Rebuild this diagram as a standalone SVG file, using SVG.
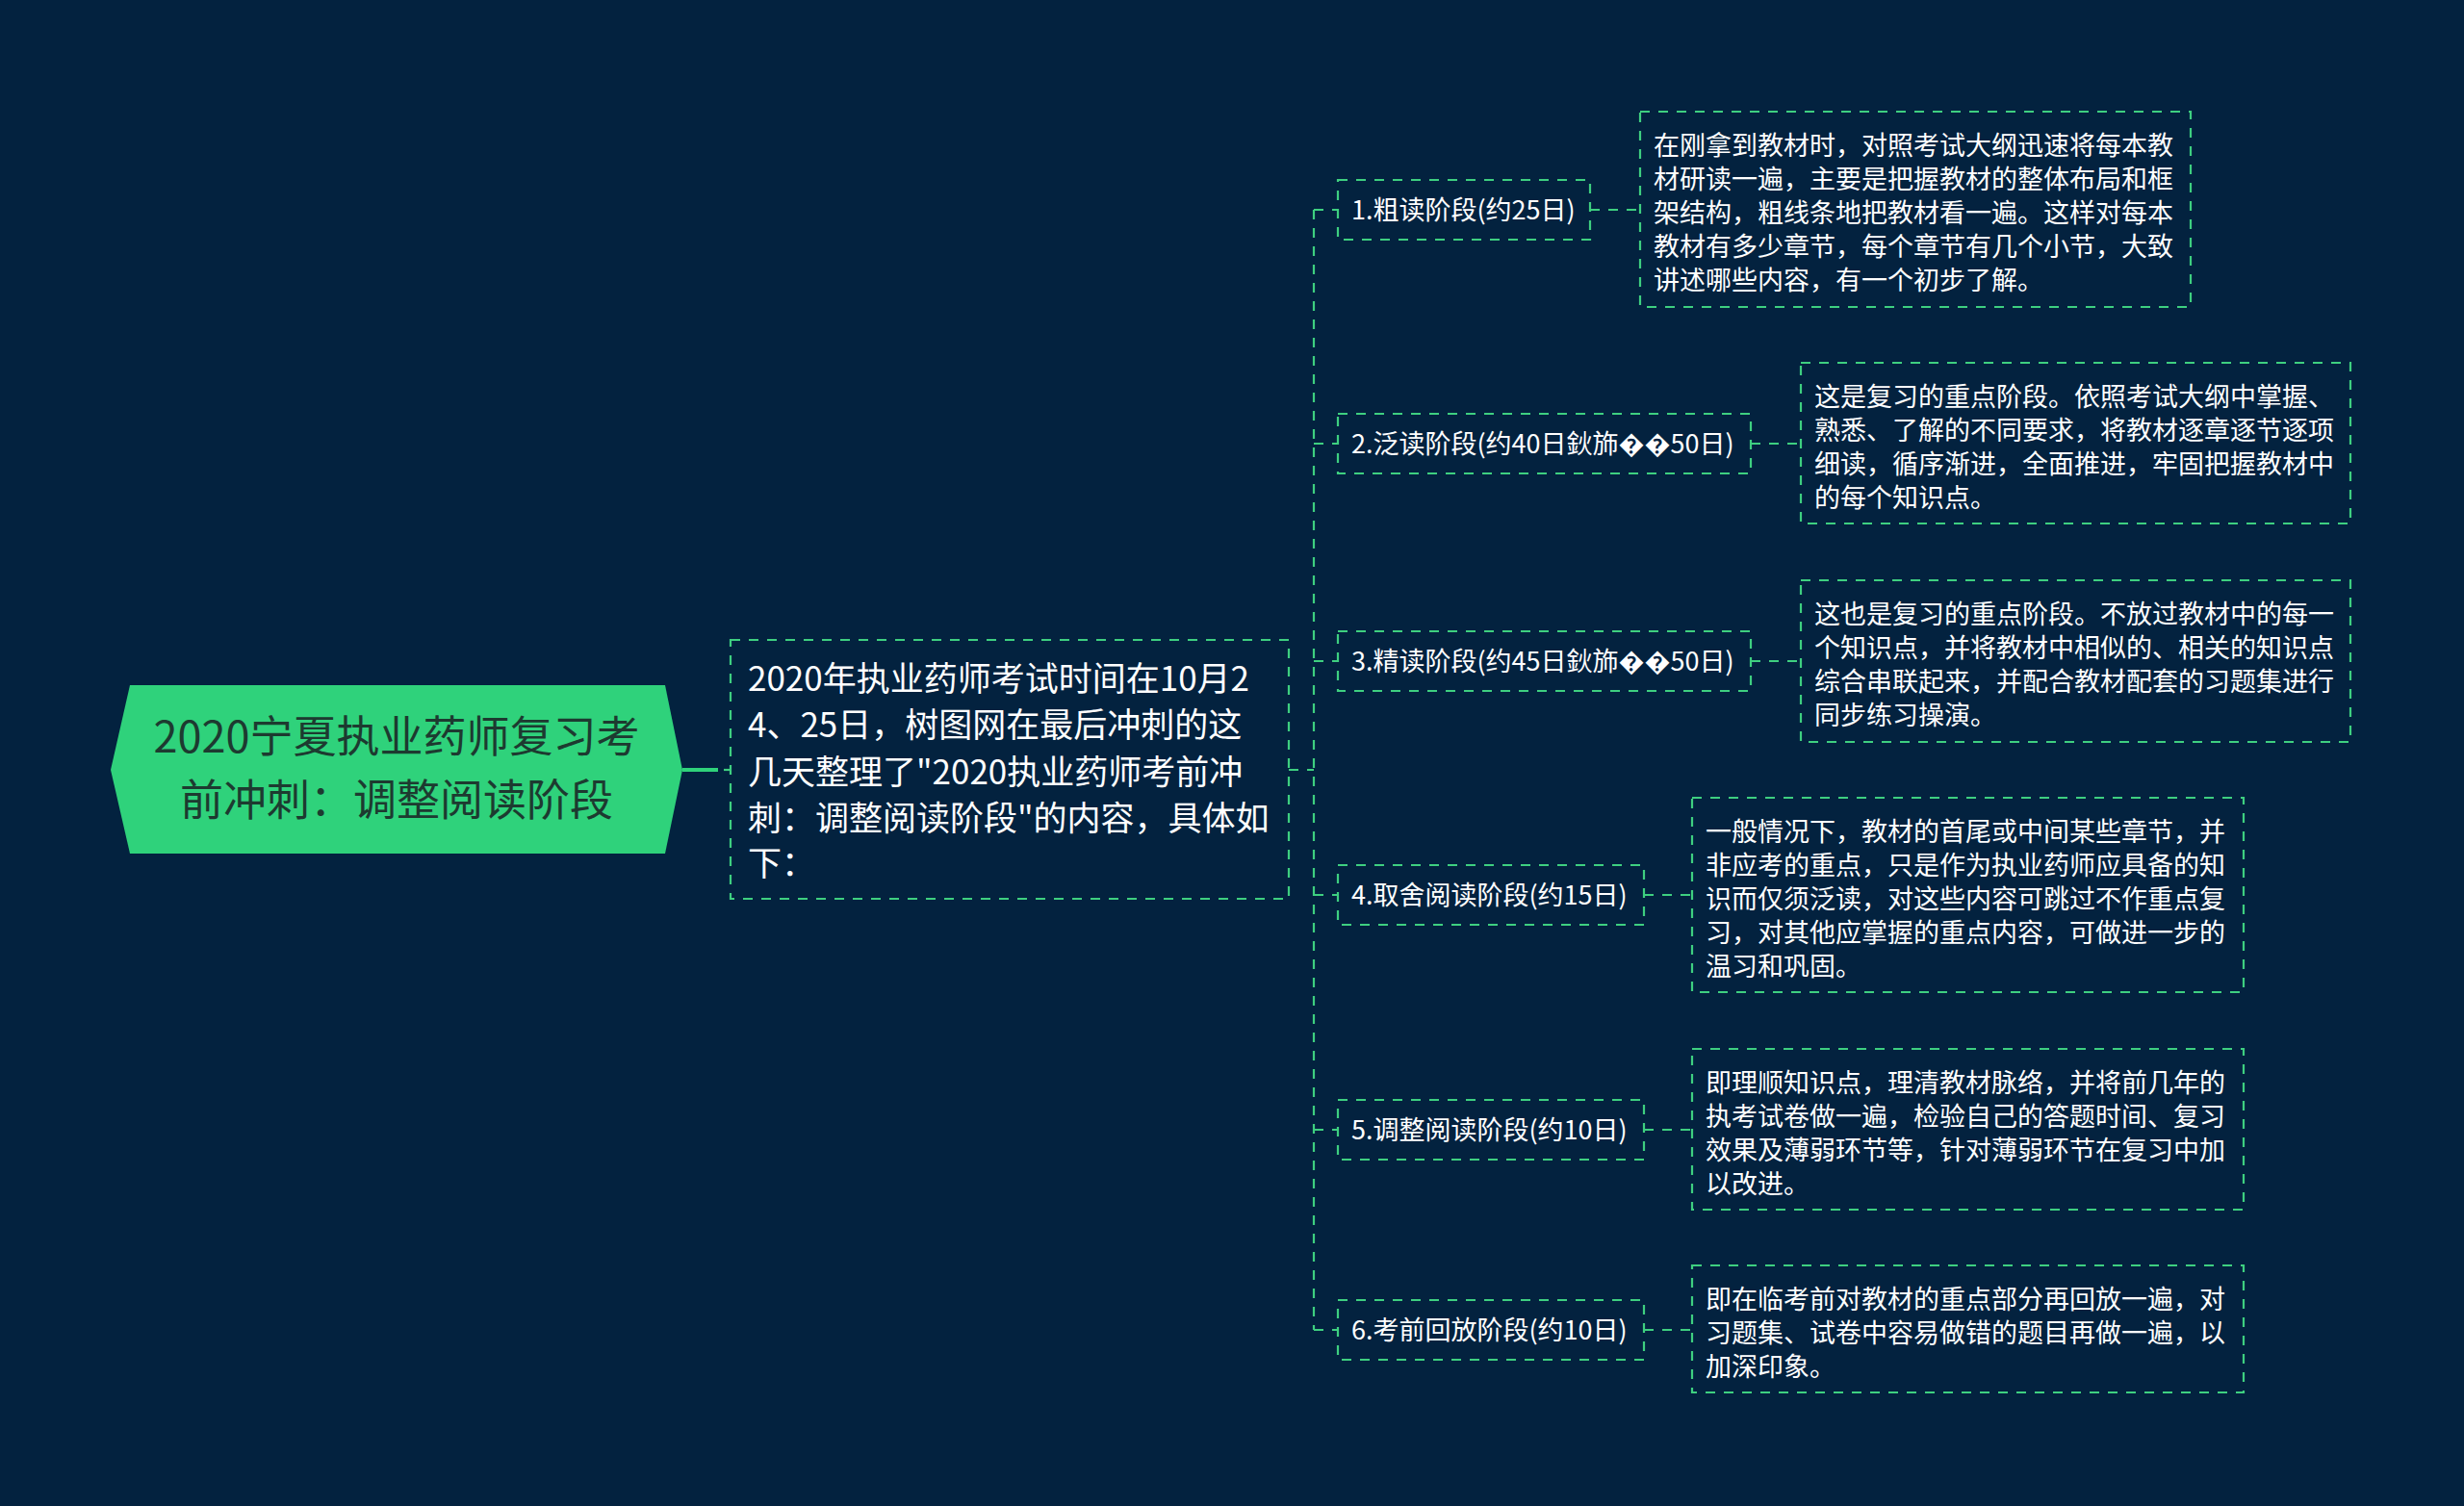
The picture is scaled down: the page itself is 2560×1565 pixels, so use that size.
<svg xmlns="http://www.w3.org/2000/svg" width="2560" height="1565" viewBox="0 0 2560 1565">
<style>
.bg{fill:#03223f}
.dash{fill:none;stroke:#3ecf80;stroke-width:2.2;stroke-dasharray:10 9}
.box{fill:none;stroke:#3ecf80;stroke-width:2.2;stroke-dasharray:10 9}
.t{font-family:"Noto Sans CJK SC","Noto Sans",sans-serif;fill:#ffffff}
.lbl{font-size:27px}
.desc{font-size:27px}
.main{font-size:35px}
.root{font-family:"Noto Sans CJK SC","Noto Sans",sans-serif;font-size:45px;fill:#1d3a30}
</style>
<rect class="bg" x="0" y="0" width="2560" height="1565"/>

<g id="connectors">
<line x1="709" y1="800" x2="746" y2="800" stroke="#2fd27b" stroke-width="4"/>
<line class="dash" x1="752" y1="800" x2="759" y2="800"/>
<line class="dash" x1="1339" y1="800" x2="1365" y2="800"/>
<line class="dash" x1="1365" y1="218" x2="1365" y2="1382"/>
<line class="dash" x1="1365" y1="218" x2="1390" y2="218"/>
<line class="dash" x1="1365" y1="461" x2="1390" y2="461"/>
<line class="dash" x1="1365" y1="687" x2="1390" y2="687"/>
<line class="dash" x1="1365" y1="930" x2="1390" y2="930"/>
<line class="dash" x1="1365" y1="1174" x2="1390" y2="1174"/>
<line class="dash" x1="1365" y1="1382" x2="1390" y2="1382"/>
<line class="dash" x1="1652" y1="218" x2="1704" y2="218"/>
<line class="dash" x1="1819" y1="461" x2="1871" y2="461"/>
<line class="dash" x1="1819" y1="687" x2="1871" y2="687"/>
<line class="dash" x1="1708" y1="930" x2="1758" y2="930"/>
<line class="dash" x1="1708" y1="1174" x2="1758" y2="1174"/>
<line class="dash" x1="1708" y1="1382" x2="1758" y2="1382"/>
</g>

<g id="root">
<polygon points="115,800 135,712 691,712 709,800 691,887 135,887" fill="#2fd27b"/>
<text class="root" text-anchor="middle"><tspan x="412" y="782">2020宁夏执业药师复习考</tspan><tspan x="412" y="848">前冲刺：调整阅读阶段</tspan></text>
</g>

<g id="intro">
<rect class="box" x="759" y="665" width="580" height="269"/>
<text class="t main" x="777" y="718">2020年执业药师考试时间在10月2</text>
<text class="t main" x="777" y="766">4、25日，树图网在最后冲刺的这</text>
<text class="t main" x="777" y="815">几天整理了"2020执业药师考前冲</text>
<text class="t main" x="777" y="863">刺：调整阅读阶段"的内容，具体如</text>
<text class="t main" x="777" y="910">下：</text>
</g>

<g id="stage1">
<rect class="box" x="1390" y="187" width="262" height="62"/>
<text class="t lbl" x="1404" y="228">1.粗读阶段(约25日)</text>
</g>
<g id="desc1">
<rect class="box" x="1704" y="116" width="572" height="203"/>
<text class="t desc" x="1718" y="161">在刚拿到教材时，对照考试大纲迅速将每本教</text>
<text class="t desc" x="1718" y="196">材研读一遍，主要是把握教材的整体布局和框</text>
<text class="t desc" x="1718" y="231">架结构，粗线条地把教材看一遍。这样对每本</text>
<text class="t desc" x="1718" y="266">教材有多少章节，每个章节有几个小节，大致</text>
<text class="t desc" x="1718" y="301">讲述哪些内容，有一个初步了解。</text>
</g>

<g id="stage2">
<rect class="box" x="1390" y="430" width="429" height="62"/>
<text class="t lbl" x="1404" y="471">2.泛读阶段(约40日鈥斾��50日)</text>
</g>
<g id="desc2">
<rect class="box" x="1871" y="377" width="571" height="167"/>
<text class="t desc" x="1885" y="422">这是复习的重点阶段。依照考试大纲中掌握、</text>
<text class="t desc" x="1885" y="457">熟悉、了解的不同要求，将教材逐章逐节逐项</text>
<text class="t desc" x="1885" y="492">细读，循序渐进，全面推进，牢固把握教材中</text>
<text class="t desc" x="1885" y="527">的每个知识点。</text>
</g>

<g id="stage3">
<rect class="box" x="1390" y="656" width="429" height="62"/>
<text class="t lbl" x="1404" y="697">3.精读阶段(约45日鈥斾��50日)</text>
</g>
<g id="desc3">
<rect class="box" x="1871" y="603" width="571" height="168"/>
<text class="t desc" x="1885" y="648">这也是复习的重点阶段。不放过教材中的每一</text>
<text class="t desc" x="1885" y="683">个知识点，并将教材中相似的、相关的知识点</text>
<text class="t desc" x="1885" y="718">综合串联起来，并配合教材配套的习题集进行</text>
<text class="t desc" x="1885" y="753">同步练习操演。</text>
</g>

<g id="stage4">
<rect class="box" x="1390" y="899" width="318" height="62"/>
<text class="t lbl" x="1404" y="940">4.取舍阅读阶段(约15日)</text>
</g>
<g id="desc4">
<rect class="box" x="1758" y="829" width="573" height="202"/>
<text class="t desc" x="1772" y="874">一般情况下，教材的首尾或中间某些章节，并</text>
<text class="t desc" x="1772" y="909">非应考的重点，只是作为执业药师应具备的知</text>
<text class="t desc" x="1772" y="944">识而仅须泛读，对这些内容可跳过不作重点复</text>
<text class="t desc" x="1772" y="979">习，对其他应掌握的重点内容，可做进一步的</text>
<text class="t desc" x="1772" y="1014">温习和巩固。</text>
</g>

<g id="stage5">
<rect class="box" x="1390" y="1143" width="318" height="62"/>
<text class="t lbl" x="1404" y="1184">5.调整阅读阶段(约10日)</text>
</g>
<g id="desc5">
<rect class="box" x="1758" y="1090" width="573" height="167"/>
<text class="t desc" x="1772" y="1135">即理顺知识点，理清教材脉络，并将前几年的</text>
<text class="t desc" x="1772" y="1170">执考试卷做一遍，检验自己的答题时间、复习</text>
<text class="t desc" x="1772" y="1205">效果及薄弱环节等，针对薄弱环节在复习中加</text>
<text class="t desc" x="1772" y="1240">以改进。</text>
</g>

<g id="stage6">
<rect class="box" x="1390" y="1351" width="318" height="62"/>
<text class="t lbl" x="1404" y="1392">6.考前回放阶段(约10日)</text>
</g>
<g id="desc6">
<rect class="box" x="1758" y="1315" width="573" height="132"/>
<text class="t desc" x="1772" y="1360">即在临考前对教材的重点部分再回放一遍，对</text>
<text class="t desc" x="1772" y="1395">习题集、试卷中容易做错的题目再做一遍，以</text>
<text class="t desc" x="1772" y="1430">加深印象。</text>
</g>
</svg>
